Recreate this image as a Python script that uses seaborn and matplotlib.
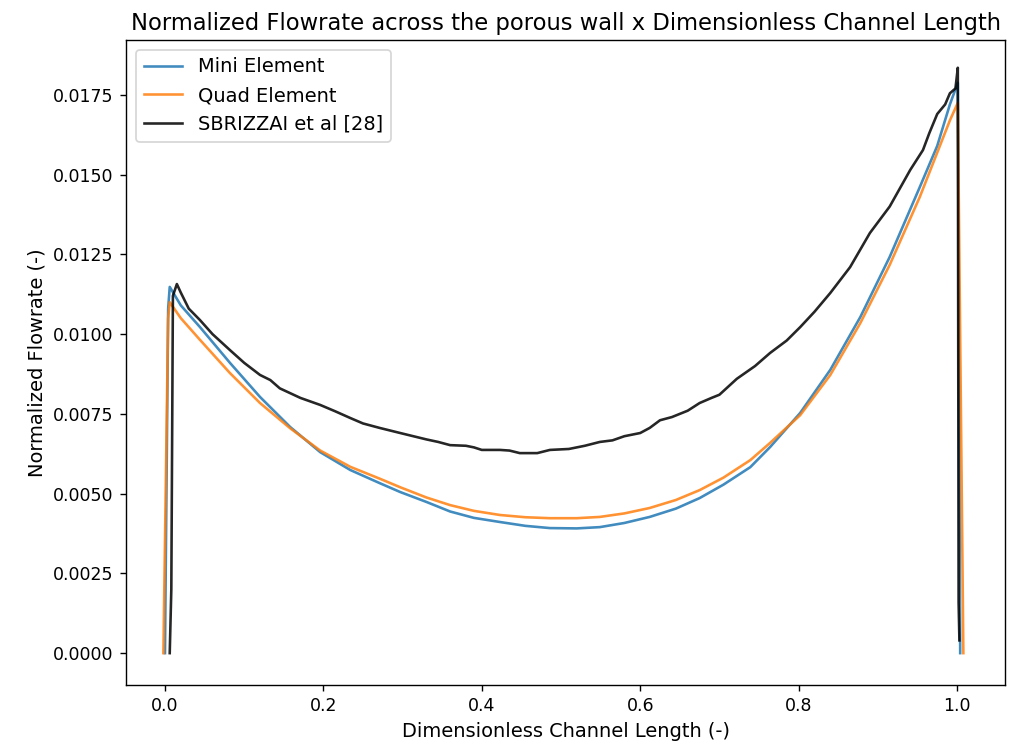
import matplotlib
matplotlib.use("Agg")
import matplotlib.pyplot as plt
import seaborn as sns
import pandas as pd

# Mini Element
mini_x = [0.0, 0.004, 0.006, 0.02, 0.0442, 0.082, 0.12, 0.158, 0.196, 0.234, 0.271, 0.297,
          0.33, 0.36, 0.39, 0.423, 0.455, 0.486, 0.52, 0.549, 0.58, 0.612, 0.645, 0.675,
          0.705, 0.739, 0.764, 0.802, 0.84, 0.878, 0.915, 0.953, 0.975, 0.991, 1.001, 1.004]
mini_y = [0.0, 0.0108, 0.01148, 0.0109, 0.01022, 0.0091, 0.00803, 0.00709, 0.0063, 0.00574,
          0.00533, 0.00505, 0.00474, 0.00444, 0.00424, 0.00411, 0.00399, 0.00392, 0.00391,
          0.00395, 0.00408, 0.00427, 0.00453, 0.00486, 0.00528, 0.00583, 0.00646, 0.00753,
          0.00888, 0.01054, 0.01242, 0.01461, 0.0159, 0.0172, 0.01788, 0.0]

# Quad Element
quad_x = [-0.002, 0.004, 0.006, 0.02, 0.0442, 0.082, 0.12, 0.158, 0.196, 0.234, 0.271, 0.297,
          0.33, 0.36, 0.39, 0.423, 0.455, 0.486, 0.52, 0.549, 0.58, 0.612, 0.645, 0.675,
          0.705, 0.739, 0.764, 0.802, 0.84, 0.878, 0.915, 0.953, 0.972, 0.991, 1.001, 1.008]
quad_y = [0.0, 0.0105, 0.0110, 0.0105, 0.00982, 0.00878, 0.00784, 0.00705, 0.00635, 0.00584,
          0.00547, 0.0052, 0.00488, 0.00464, 0.00446, 0.00433, 0.00426, 0.00423, 0.00423,
          0.00427, 0.00438, 0.00455, 0.0048, 0.00511, 0.0055, 0.00605, 0.00659, 0.00746,
          0.00872, 0.01035, 0.01217, 0.0143, 0.0155, 0.0167, 0.01725, 0.0]

# SBRIZZAI et al [28]
ref_x = [0.006, 0.008, 0.010, 0.015, 0.02, 0.03, 0.0442, 0.06, 0.082, 0.1, 0.12, 0.133,
         0.145, 0.158, 0.171, 0.196, 0.215, 0.234, 0.25, 0.271, 0.297, 0.33, 0.345, 0.36,
         0.38, 0.39, 0.40, 0.423, 0.435, 0.448, 0.47, 0.486, 0.51, 0.53, 0.549, 0.565, 0.58,
         0.6, 0.612, 0.625, 0.64, 0.66, 0.675, 0.69, 0.70, 0.722, 0.745, 0.764, 0.785, 0.802,
         0.82, 0.84, 0.865, 0.89, 0.915, 0.941, 0.957, 0.965, 0.975, 0.985, 0.991, 0.998,
         1.001, 1.002, 1.003]
ref_y = [0.0, 0.002, 0.0112, 0.01157, 0.0113, 0.0108, 0.01044, 0.0100, 0.0095, 0.0091,
         0.00872, 0.00856, 0.0083, 0.00815, 0.0080, 0.00778, 0.00758, 0.00737, 0.0072,
         0.00706, 0.0069, 0.0067, 0.00662, 0.00652, 0.0065, 0.00645, 0.00637, 0.00637,
         0.00635, 0.00627, 0.00627, 0.00637, 0.0064, 0.0065, 0.00662, 0.00667, 0.0068,
         0.0069, 0.00706, 0.0073, 0.0074, 0.0076, 0.00784, 0.0080, 0.0081, 0.0086, 0.0090,
         0.00941, 0.0098, 0.01022, 0.0107, 0.01129, 0.0121, 0.01317, 0.0140, 0.01515,
         0.01577, 0.0163, 0.0169, 0.0172, 0.01755, 0.0177, 0.01835, 0.0016, 0.0004]

labels = ["Mini Element", "Quad Element", "SBRIZZAI et al [28]"]
colors = ["#1f77b4", "#ff7f0e", "black"]

fig = plt.figure(figsize=(1027 / 125, 749 / 125), dpi=125)
ax = fig.add_axes([0.1227, 0.0854, 0.8559, 0.8612])

for (xs, ys), lab, col in zip([(mini_x, mini_y), (quad_x, quad_y), (ref_x, ref_y)], labels, colors):
    df = pd.DataFrame({"x": xs, "y": ys})
    sns.lineplot(data=df, x="x", y="y", sort=False, estimator=None, ax=ax,
                 color=col, label=lab, alpha=0.85, linewidth=1.5)

ax.set_xlim(-0.0492, 1.0606)
ax.set_ylim(-0.00100, 0.01922)
ax.set_title("Normalized Flowrate across the porous wall x Dimensionless Channel Length", fontsize=13)
ax.set_xlabel("Dimensionless Channel Length (-)", fontsize=11.2)
ax.set_ylabel("Normalized Flowrate (-)", fontsize=11.2)
ax.tick_params(labelsize=10)
ax.legend(loc="upper left", fontsize=11.2)

fig.savefig("out.png", dpi=125)
